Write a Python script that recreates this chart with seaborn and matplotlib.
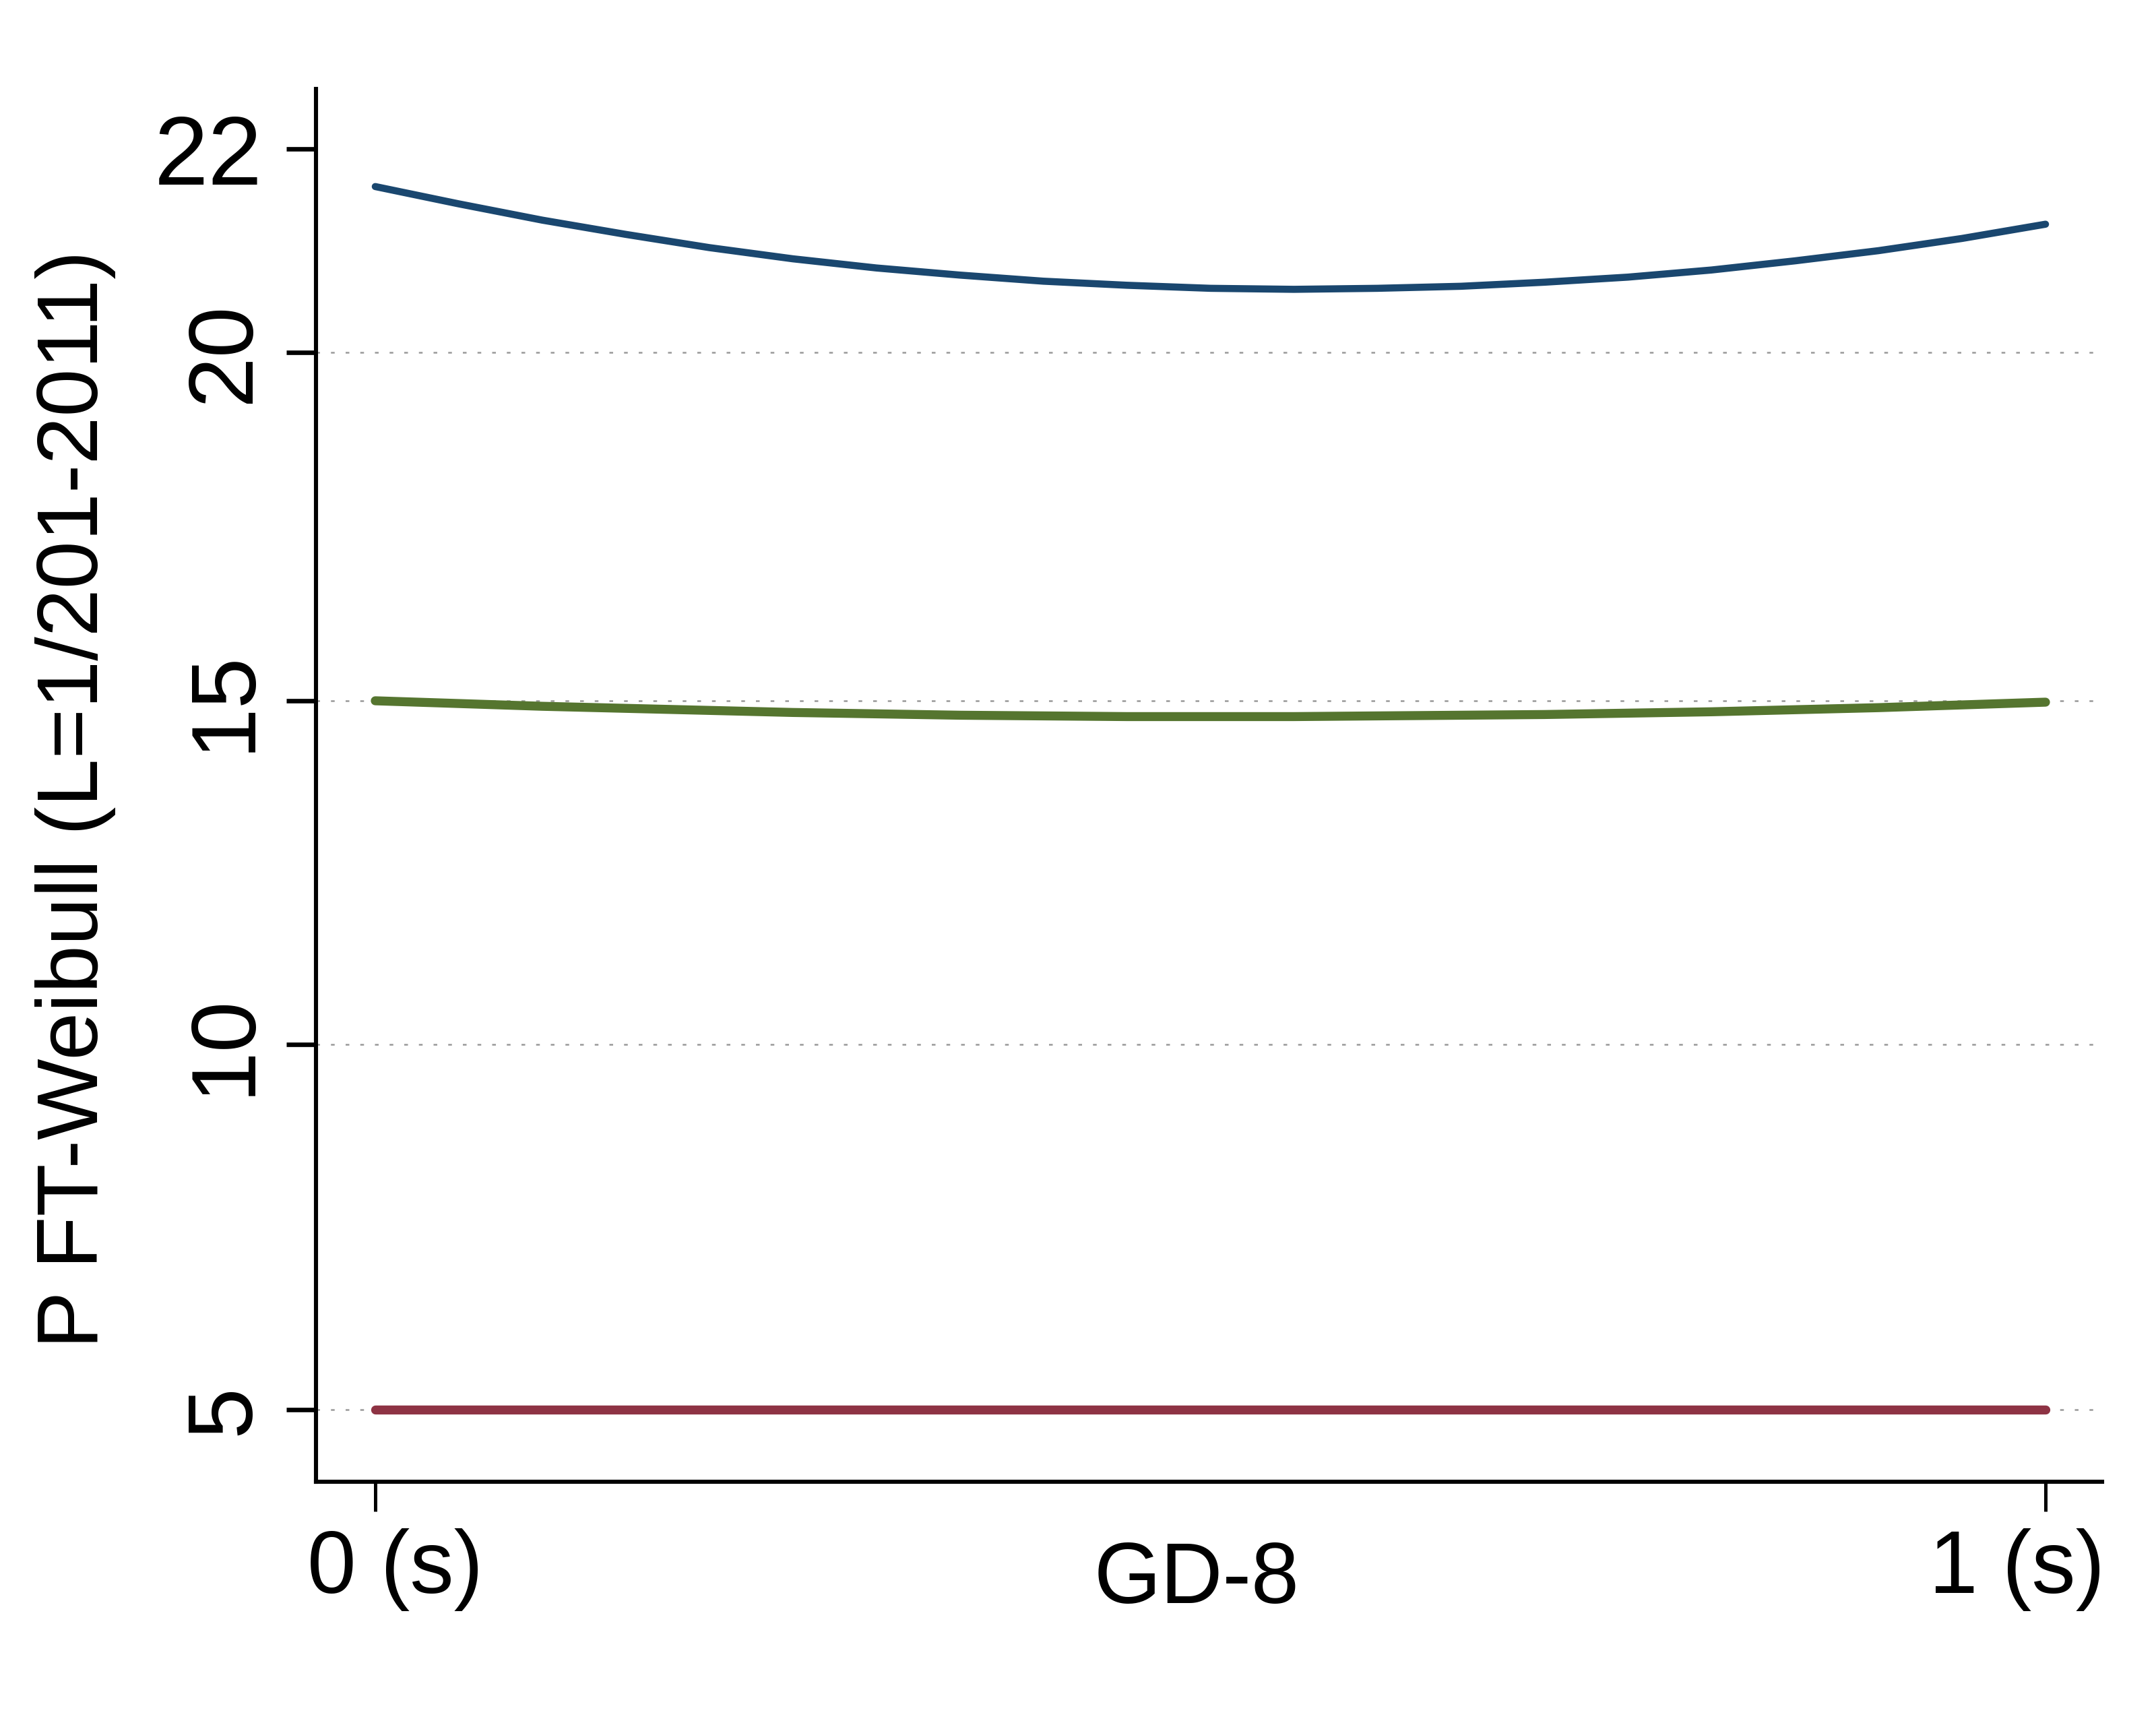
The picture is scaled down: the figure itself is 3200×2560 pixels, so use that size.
import numpy as np
import pandas as pd
import matplotlib
matplotlib.use("Agg")
import matplotlib.pyplot as plt
import matplotlib.transforms as mtransforms
import seaborn as sns

# values (x = GD-8, 0 to 1)
gd8 = [0.0, 0.05, 0.1, 0.15, 0.2, 0.25, 0.3, 0.35, 0.4, 0.45, 0.5,
       0.55, 0.6, 0.65, 0.7, 0.75, 0.8, 0.85, 0.9, 0.95, 1.0]
pft_top = [21.63, 21.46, 21.30, 21.16, 21.03, 20.92, 20.83, 20.76, 20.70, 20.66, 20.63,
           20.62, 20.63, 20.65, 20.69, 20.74, 20.81, 20.90, 21.00, 21.12, 21.26]
pft_mid = [15.00, 14.96, 14.92, 14.89, 14.86, 14.83, 14.81, 14.79, 14.78, 14.77, 14.77,
           14.77, 14.78, 14.79, 14.80, 14.82, 14.84, 14.87, 14.90, 14.94, 14.98]
pft_low = [5.0] * len(gd8)

ytick_major = [5, 10, 15, 20]
ytick_minor = [22]
xtick_vals = [0, 1]
xtick_labels = ["0 (s)", "1 (s)"]

series_names = ["top", "mid", "low"]
colors = ["#1a476f", "#55752f", "#8e3344"]

df = pd.DataFrame({
    "gd8": gd8 * 3,
    "pft": pft_top + pft_mid + pft_low,
    "grp": [n for n in series_names for _ in gd8],
})

# the reference axis is not evenly spaced: pixel rows of the ticks
tick_vals = np.array([5.0, 10.0, 15.0, 20.0, 22.0])
tick_pix = -np.array([2092.0, 1550.0, 1040.0, 523.0, 221.0])


def piecewise(v, xs, ys):
    v = np.asarray(v, dtype=float)
    shp = v.shape
    v = np.atleast_1d(v).copy()
    out = np.interp(v, xs, ys)
    lo = v < xs[0]
    hi = v > xs[-1]
    out[lo] = ys[0] + (v[lo] - xs[0]) * (ys[1] - ys[0]) / (xs[1] - xs[0])
    out[hi] = ys[-1] + (v[hi] - xs[-1]) * (ys[-1] - ys[-2]) / (xs[-1] - xs[-2])
    return out.reshape(shp)


def fwd(v):
    return piecewise(v, tick_vals, tick_pix)


def inv(p):
    return piecewise(p, tick_pix, tick_vals)


sns.set_theme(style="white")
plt.rcParams["font.family"] = ["Liberation Sans", "DejaVu Sans"]

W, H = 3200, 2560
fig = plt.figure(figsize=(16, 12.8), dpi=200)
ax = fig.add_axes([469 / W, 1 - 2199 / H, (3120 - 469) / W, (2199 - 132) / H])

sns.lineplot(data=df, x="gd8", y="pft", hue="grp", hue_order=series_names,
             palette=colors, legend=False, ax=ax, solid_capstyle="round")
for line, lw in zip(ax.lines, [3.8, 4.8, 4.8]):
    line.set_linewidth(lw)
    line.set_solid_capstyle("round")

ax.set_yscale("function", functions=(fwd, inv))
ax.set_ylim(float(inv(-2199.0)), float(inv(-132.0)))
# x: tick 0 at px 557, tick 1 at px 3036
ppu = 3036 - 557
ax.set_xlim(-(557 - 469) / ppu, 1 + (3120 - 3036) / ppu)

ax.set_yticks(ytick_major)
ax.set_yticklabels([str(v) for v in ytick_major])
ax.set_yticks(ytick_minor, minor=True)
ax.set_yticklabels([str(v) for v in ytick_minor], minor=True)
ax.set_xticks(xtick_vals)
ax.set_xticklabels(xtick_labels)

for s in ["top", "right"]:
    ax.spines[s].set_visible(False)
for s in ["left", "bottom"]:
    ax.spines[s].set_color("black")
    ax.spines[s].set_linewidth(2.2)

ax.tick_params(axis="y", which="major", length=15.8, width=2.4, color="black",
               labelcolor="black", labelsize=49, labelrotation=90, pad=10, left=True)
ax.tick_params(axis="y", which="minor", length=15.8, width=2.4, color="black",
               labelcolor="black", labelsize=52, pad=13, left=True)
ax.tick_params(axis="x", length=15.8, width=1.8, color="black",
               labelcolor="black", labelsize=47, pad=9, bottom=True)
for t in ax.get_yticklabels():
    t.set_va("center")

# the reference nudges the two x labels inward
for t, dx in zip(ax.get_xticklabels(), [30, -42]):
    t.set_transform(t.get_transform() + mtransforms.ScaledTranslation(dx / 200, 0, fig.dpi_scale_trans))

ax.yaxis.grid(True, which="major", color="#999999", linewidth=0.9,
              linestyle=(0, (2.2, 6.5)))
ax.xaxis.grid(False)

ax.set_ylabel("P FT-Weibull (L=1/201-2011)", fontsize=46, color="black")
ax.yaxis.set_label_coords(-0.112, (2199 - 1186) / (2199 - 132))
ax.set_xlabel("GD-8", fontsize=46, color="black")
ax.xaxis.set_label_coords(0.493, -0.042)

fig.savefig("out.png", dpi=200, facecolor="white")
